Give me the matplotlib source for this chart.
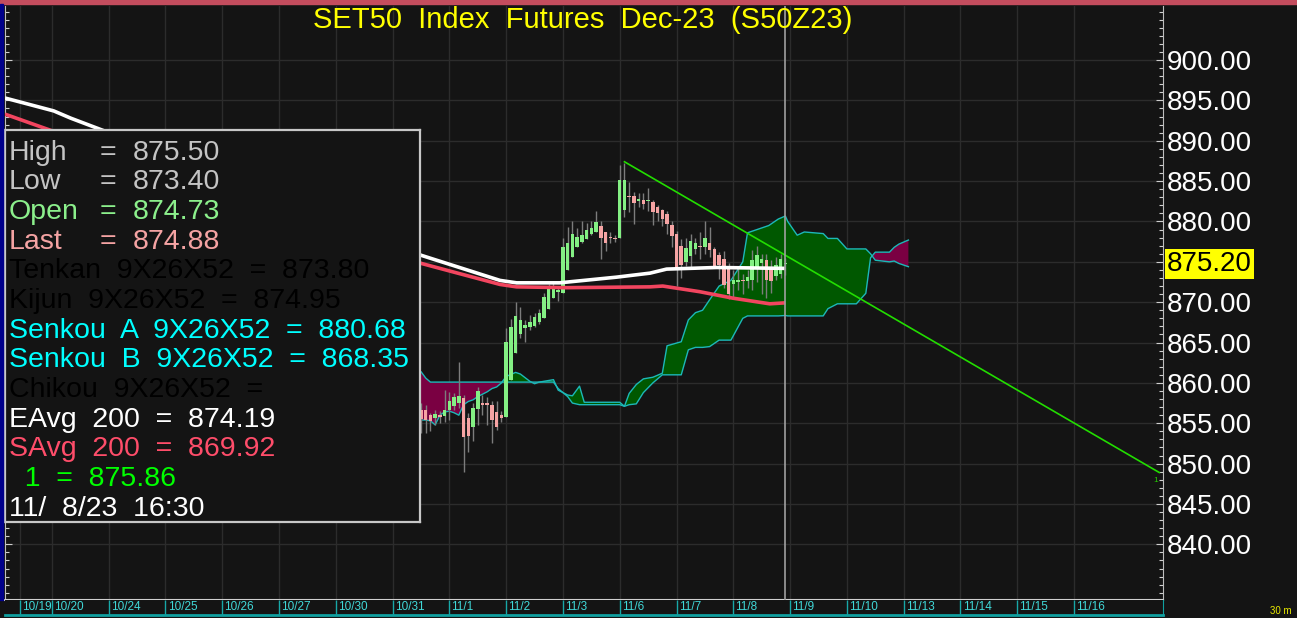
import matplotlib
matplotlib.use("Agg")
import matplotlib.pyplot as plt
from matplotlib.patches import Rectangle
from matplotlib.ticker import MultipleLocator
import numpy as np

W, H = 1297, 618

# 30 min bars, 12 per session, bar 0 = first bar of 10/20
first_bar = 78
opens = [856.7, 856.7, 856.0, 855.6, 856.0, 855.9, 856.6, 857.1, 857.5, 858.1,
         855.6, 854.5, 856.8, 857.5, 857.4, 857.3, 856.4, 856.0, 855.8, 860.4,
         863.7, 866.0, 866.8, 866.9, 867.0, 867.6, 868.1, 869.2, 870.5, 871.3,
         871.2, 874.0, 875.6, 876.9, 877.5, 877.8, 878.4, 878.7, 879.4, 878.7,
         878.0, 878.0, 877.9, 881.4, 883.2, 883.1, 882.6, 882.7, 882.5, 882.4,
         881.8, 881.4, 880.9, 879.6, 878.4, 877.0, 875.0, 875.7, 876.6, 877.0,
         876.9, 877.3, 876.6, 875.8, 875.3, 874.1, 872.3, 872.5, 872.8, 872.6,
         872.7, 874.4, 874.9, 875.2, 874.4, 873.3, 873.5, 874.73]
highs = [857.5, 857.3, 856.3, 856.7, 856.5, 859.1, 858.9, 858.7, 862.6, 858.5,
         856.3, 857.5, 859.5, 858.5, 858.3, 857.7, 857.7, 856.5, 866.8, 867.9,
         870.0, 869.4, 867.8, 868.4, 868.7, 869.2, 871.2, 872.3, 872.6, 871.8,
         877.9, 879.3, 880.0, 879.2, 880.0, 879.8, 880.0, 881.3, 880.0, 878.7,
         878.7, 878.3, 887.0, 887.3, 884.9, 883.6, 883.5, 883.5, 884.1, 882.7,
         882.0, 881.6, 881.3, 880.0, 878.8, 877.8, 878.0, 878.5, 878.0, 878.7,
         880.1, 879.3, 876.8, 876.2, 876.4, 874.8, 874.0, 874.5, 873.5, 874.0,
         876.5, 877.0, 876.0, 876.0, 875.2, 875.6, 876.0, 875.50]
lows = [853.8, 853.8, 854.0, 854.8, 855.0, 855.2, 855.4, 856.7, 856.9, 849.0,
        851.5, 852.8, 854.8, 856.0, 854.8, 852.5, 854.2, 855.2, 855.8, 860.4,
        863.7, 865.6, 865.1, 866.5, 866.9, 867.3, 868.1, 869.2, 870.5, 870.2,
        871.2, 874.0, 875.6, 876.9, 877.3, 877.8, 878.3, 878.7, 875.4, 876.3,
        877.3, 877.4, 877.9, 880.5, 881.2, 879.7, 881.8, 881.5, 881.3, 879.6,
        880.0, 879.5, 878.5, 876.8, 872.0, 873.0, 874.5, 874.4, 876.0, 875.4,
        876.0, 875.6, 874.2, 872.9, 871.7, 870.4, 870.7, 871.5, 871.0, 871.8,
        871.5, 872.5, 871.0, 870.5, 871.2, 872.8, 873.0, 873.40]
closes = [855.5, 855.4, 855.3, 856.2, 855.8, 856.7, 857.8, 858.2, 858.4, 853.3,
          853.4, 856.9, 859.0, 857.3, 857.3, 855.4, 854.5, 855.6, 865.1, 866.9,
          868.3, 867.8, 867.2, 867.5, 868.2, 868.6, 870.7, 871.6, 872.0, 871.4,
          876.8, 877.3, 878.4, 878.1, 878.3, 878.9, 879.2, 879.9, 877.9, 877.3,
          877.9, 877.8, 885.1, 885.1, 883.0, 882.3, 882.7, 882.2, 882.6, 881.2,
          881.0, 880.3, 879.7, 878.2, 874.2, 874.6, 876.7, 877.6, 877.3, 876.8,
          877.9, 876.5, 874.4, 874.6, 872.1, 871.0, 872.7, 872.8, 872.6, 873.1,
          875.2, 875.8, 875.3, 872.7, 872.6, 874.6, 875.3, 874.88]

# EAvg 200 and SAvg 200
ema_x = [-9.9, 0.4, 4.0, 11.2, 78.1, 94.7, 98.2, 107.3, 119.3, 126.4, 129.9, 140.5, 155.0]
ema_y = [895.3, 893.7, 892.8, 891.2, 875.8, 872.7, 872.4, 872.4, 873.1, 873.6, 874.1, 874.3, 874.19]
sma_x = [-9.9, 0.2, 78.1, 94.7, 98.2, 108.8, 126.4, 129.1, 136.9, 143.9, 151.7, 155.0]
sma_y = [893.3, 891.2, 874.8, 872.2, 871.9, 871.8, 871.9, 872.0, 871.3, 870.5, 869.8, 869.92]

# Ichimoku cloud
cloud_x = [76, 78, 79, 80, 81, 82, 83, 84, 85, 86, 87, 88, 89, 90, 91, 92, 93, 94,
           95, 96, 98, 99, 101, 102, 103, 106, 107, 109, 110, 111.5, 112.5, 120,
           121, 122, 123.5, 125, 127, 129, 130, 133, 134.5, 136, 137.5, 139, 141,
           143.5, 146, 147, 151.5, 153.5, 155, 155.5, 157.5, 159, 163, 164, 166,
           168, 170, 172, 173, 174, 177, 178, 179, 181]
span_a = [855.4, 855.4, 855.4, 855.3, 854.8, 856.0, 856.4, 856.5, 856.3, 856.0,
          857.3, 857.7, 857.9, 858.3, 858.6, 858.9, 859.3, 859.5, 860.0, 860.8,
          861.3, 861.1, 860.2, 859.9, 860.1, 860.4, 859.1, 858.5, 858.4, 859.6,
          857.6, 857.6, 857.1, 858.7, 859.8, 860.5, 860.7, 861.2, 864.6, 865.1,
          867.8, 868.7, 869.0, 870.3, 872.0, 872.7, 875.0, 878.6, 879.5, 880.3,
          880.68, 880.0, 878.3, 878.7, 878.5, 877.9, 877.9, 876.6, 876.6, 876.6,
          876.0, 875.2, 875.0, 875.1, 874.8, 874.4]
span_b = [861.4, 861.4, 860.6, 860.1, 860.1, 860.1, 860.1, 860.1, 860.1, 860.1,
          860.1, 860.1, 860.1, 860.1, 860.1, 860.1, 860.1, 860.1, 860.1, 860.1,
          860.1, 860.1, 860.1, 860.1, 860.1, 860.1, 859.3, 858.3, 857.5, 857.3,
          857.3, 857.3, 857.1, 857.3, 857.4, 858.8, 860.0, 861.0, 861.0, 861.0,
          864.1, 864.4, 864.4, 864.5, 865.3, 865.3, 868.0, 868.3, 868.3, 868.3,
          868.35, 868.3, 868.3, 868.3, 868.3, 869.2, 869.8, 869.8, 869.8, 871.1,
          875.5, 876.2, 876.2, 876.8, 877.2, 877.7]

trend_x = [121, 234]
trend_y = [887.4, 848.9]

day_labels = ["10/19", "10/20", "10/24", "10/25", "10/26", "10/27", "10/30", "10/31",
              "11/1", "11/2", "11/3", "11/6", "11/7", "11/8", "11/9", "11/10",
              "11/13", "11/14", "11/15", "11/16"]
cursor_bar = 155
last_price = "875.20"

title = "SET50  Index  Futures  Dec-23  (S50Z23)"
ohlc_rows = [("High", "875.50", "#c4c4c4"), ("Low", "873.40", "#c4c4c4"),
             ("Open", "874.73", "#8cf08c"), ("Last", "874.88", "#f5a3a3")]
info_rows = [("Tenkan  9X26X52  =  873.80", "#000000"),
             ("Kijun  9X26X52  =  874.95", "#000000"),
             ("Senkou  A  9X26X52  =  880.68", "#00ffff"),
             ("Senkou  B  9X26X52  =  868.35", "#00ffff"),
             ("Chikou  9X26X52  =", "#000000"),
             ("EAvg  200  =  874.19", "#ffffff"),
             ("SAvg  200  =  869.92", "#ff4d6a"),
             ("  1  =  875.86", "#00ff00"),
             ("11/  8/23  16:30", "#ffffff")]

BG = "#141414"
plt.rcParams['font.family'] = ['Liberation Sans', 'DejaVu Sans']


def fx(px):
    return px / W


def fy(py):
    return 1 - py / H


fig = plt.figure(figsize=(W / 100, H / 100), dpi=100, facecolor=BG)

# main price panel
ax = fig.add_axes([fx(5), fy(600), fx(1163) - fx(5), fy(6) - fy(600)])
ax.set_facecolor(BG)
ax.set_xlim(-9.9, 234.8)
ax.set_ylim(833.1, 906.7)

day_ticks = [-6.75] + [12 * k for k in range(len(day_labels) - 1)]
ax.set_xticks(day_ticks)
ax.tick_params(axis='x', length=0, labelbottom=False)
yt = np.arange(840, 905, 5)
ax.set_yticks(yt)
ax.set_yticklabels(["" if v == 875 else "%.2f" % v for v in yt])
ax.yaxis.set_minor_locator(MultipleLocator(1))
ax.tick_params(axis='y', which='both', left=True, right=True, labelleft=False,
               labelright=True, direction='in', color='#cfcfcf', width=0.8)
ax.tick_params(axis='y', which='major', length=5, pad=3, labelsize=20, labelcolor='white')
ax.tick_params(axis='y', which='minor', length=3)
ax.grid(True, color='#2c2c2c', lw=1)
ax.set_axisbelow(True)
ax.spines['top'].set_visible(False)
ax.spines['left'].set_color('#bdbdbd')
ax.spines['right'].set_color('#bdbdbd')
ax.spines['bottom'].set_color('#d0d0d0')
ax.spines['bottom'].set_linewidth(1.5)

# cloud
a = np.array(span_a)
b = np.array(span_b)
ax.fill_between(cloud_x, a, b, where=a >= b, interpolate=True, color='#005800', lw=0, zorder=1)
ax.fill_between(cloud_x, a, b, where=a < b, interpolate=True, color='#7a0042', lw=0, zorder=1)
ax.plot(cloud_x, span_a, color='#1cb8b8', lw=1, zorder=2)
ax.plot(cloud_x, span_b, color='#1cb8b8', lw=1, zorder=2)

# candles
xs = np.arange(first_bar, first_bar + len(opens))
o = np.array(opens)
c = np.array(closes)
ax.vlines(xs, lows, highs, color='#7c7c7c', lw=1, zorder=3)
up = c >= o
body_lo = np.minimum(o, c)
body_h = np.maximum(np.abs(c - o), 0.18)
ax.bar(xs[up], body_h[up], bottom=body_lo[up], width=0.74, color='#84f084', lw=0, zorder=4)
ax.bar(xs[~up], body_h[~up], bottom=body_lo[~up], width=0.74, color='#f6a4a4', lw=0, zorder=4)

# averages
ax.plot(ema_x, ema_y, color='white', lw=2.6, zorder=5, solid_capstyle='butt')
ax.plot(sma_x, sma_y, color='#f2455f', lw=2.6, zorder=5, solid_capstyle='butt')

# trend line
ax.plot(trend_x, trend_y, color='#22dd00', lw=1.2, zorder=6)
ax.text(trend_x[1] - 0.8, trend_y[1] - 1.0, "1", color='#22cc00', fontsize=6,
        ha='center', va='center', zorder=6)

# cursor
ax.axvline(cursor_bar, color='#a0a0a0', lw=1.2, zorder=7)

# date strip
sx = fig.add_axes([fx(5), fy(615), fx(1163) - fx(5), fy(600) - fy(615)])
sx.set_facecolor(BG)
sx.set_xlim(ax.get_xlim())
sx.set_ylim(0, 1)
sx.set_xticks([])
sx.set_yticks([])
for s in ['top', 'left']:
    sx.spines[s].set_visible(False)
sx.spines['bottom'].set_color('#10a0a0')
sx.spines['bottom'].set_linewidth(2)
sx.spines['right'].set_color('#10a0a0')
sx.vlines(day_ticks, 0, 1, color='#18a8a8', lw=1)
for t, lab in zip(day_ticks, day_labels):
    sx.text(t + 0.45, 0.5, lab, color='#40d8d8', fontsize=8.5, va='center', ha='left',
            family=['Liberation Sans Narrow', 'Liberation Sans'])

fig.text(fx(1270), fy(611), "30 m", color='#e8e800', fontsize=7, va='center')

# info box
lb = fig.add_axes([fx(5), fy(522), fx(420) - fx(5), fy(130) - fy(522)])
lb.set_facecolor(BG)
lb.set_xticks([])
lb.set_yticks([])
for s in lb.spines.values():
    s.set_color('#c8c8c8')
    s.set_linewidth(1.6)

row_step = 29.67
for i, (lab, val, col) in enumerate(ohlc_rows):
    yb = fy(150 + i * row_step + 9.5)
    fig.text(fx(9), yb, lab, color=col, fontsize=20.5, va='baseline')
    fig.text(fx(100), yb, "=", color=col, fontsize=20.5, va='baseline')
    fig.text(fx(133), yb, val, color=col, fontsize=20.5, va='baseline')
for j, (txt, col) in enumerate(info_rows):
    yb = fy(150 + (j + 4) * row_step + 9.5)
    fig.text(fx(9), yb, txt, color=col, fontsize=20.5, va='baseline')

# title
fig.text(fx(583), fy(20), title, color='#ffff00', fontsize=21, ha='center', va='center')

# last price tag
fig.text(fx(1167), fy(261), last_price, color='black', fontsize=20, va='center_baseline',
         ha='left', bbox=dict(facecolor='#ffff00', edgecolor='none', pad=1.5))

# frame decorations
fig.patches.append(Rectangle((0, fy(4)), 1, 4 / H, transform=fig.transFigure,
                             color='#c44d5e', zorder=10))
fig.patches.append(Rectangle((0, fy(600)), 3 / W, 596 / H, transform=fig.transFigure,
                             color='#00008b', zorder=10))

fig.savefig("out.png", dpi=100, facecolor=BG)
